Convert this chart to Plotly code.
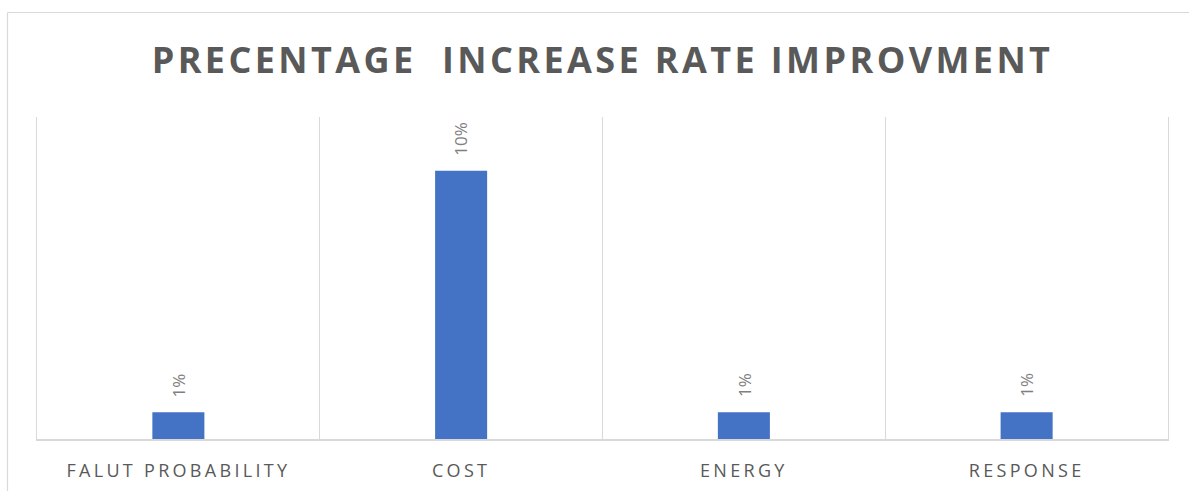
import plotly.graph_objects as go

# Chart data
categories = ["FALUT PROBABILITY", "COST", "ENERGY", "RESPONSE"]
values = [1, 10, 1, 1]  # percent
value_labels = ["1%", "10%", "1%", "1%"]
title_text = "PRECENTAGE\u00a0 INCREASE RATE IMPROVMENT"

BAR_COLOR = "#4472C4"
GRID_COLOR = "#D9D9D9"
TITLE_COLOR = "#595959"
LABEL_COLOR = "#7F7F7F"

fig = go.Figure()
fig.add_trace(go.Bar(
    x=categories,
    y=values,
    marker=dict(color=BAR_COLOR, line=dict(width=0)),
    width=0.184,
    hoverinfo="skip",
))

# Value labels above each bar, rotated
for cat, val, lab in zip(categories, values, value_labels):
    fig.add_annotation(
        x=cat, y=val, text=lab, showarrow=False,
        textangle=-90, yanchor="bottom", yshift=13,
        font=dict(family="Open Sans", size=17, color=LABEL_COLOR),
    )

# Outer chart frame (top and left edges)
W, H = 1189, 491
L, R, T, B = 37, 21, 117, 52
pw, ph = W - L - R, H - T - B


def px_to_paper(px, py):
    return (px - L) / pw, (H - B - py) / ph


x0, y0 = px_to_paper(7.5, 12.5)
x1, _ = px_to_paper(W + 5, 0)
_, y1 = px_to_paper(0, H + 5)
frame = dict(type="line", xref="paper", yref="paper",
             line=dict(color=GRID_COLOR, width=1.2), layer="below")
fig.add_shape(x0=x0, y0=y0, x1=x1, y1=y0, **frame)
fig.add_shape(x0=x0, y0=y0, x1=x0, y1=y1, **frame)

fig.update_layout(
    width=W, height=H,
    margin=dict(l=L, r=R, t=T, b=B, autoexpand=False),
    paper_bgcolor="white", plot_bgcolor="white",
    showlegend=False,
    title=dict(
        text=title_text, x=0.5, xref="paper", xanchor="center",
        y=1 - 60 / H, yref="container", yanchor="middle",
        font=dict(family="Open Sans", size=36, color=TITLE_COLOR, weight="bold"),
    ),
    xaxis=dict(
        type="category", tickson="boundaries", automargin=False,
        showgrid=True, gridcolor=GRID_COLOR, gridwidth=1,
        showline=True, linecolor=GRID_COLOR, linewidth=1.5,
        ticks="", ticklabelstandoff=15,
        tickfont=dict(family="Open Sans", size=18, color=TITLE_COLOR),
        range=[-0.5, 3.5], fixedrange=True,
    ),
    yaxis=dict(
        range=[0, 12], showgrid=False, zeroline=False, automargin=False,
        showticklabels=False, ticks="",
        showline=True, mirror=True, linecolor=GRID_COLOR, linewidth=1,
        fixedrange=True,
    ),
)

spacing_js = """
var gd = document.getElementById('{plot_id}');
function spaceText() {
  gd.querySelectorAll('.gtitle').forEach(function (t) { t.setAttribute('letter-spacing', '3.4px'); });
  gd.querySelectorAll('.xtick text').forEach(function (t) { t.setAttribute('letter-spacing', '3.3px'); });
}
spaceText();
gd.on('plotly_afterplot', spaceText);
"""

fig.write_html("out.html", post_script=spacing_js, config={"displayModeBar": False})
